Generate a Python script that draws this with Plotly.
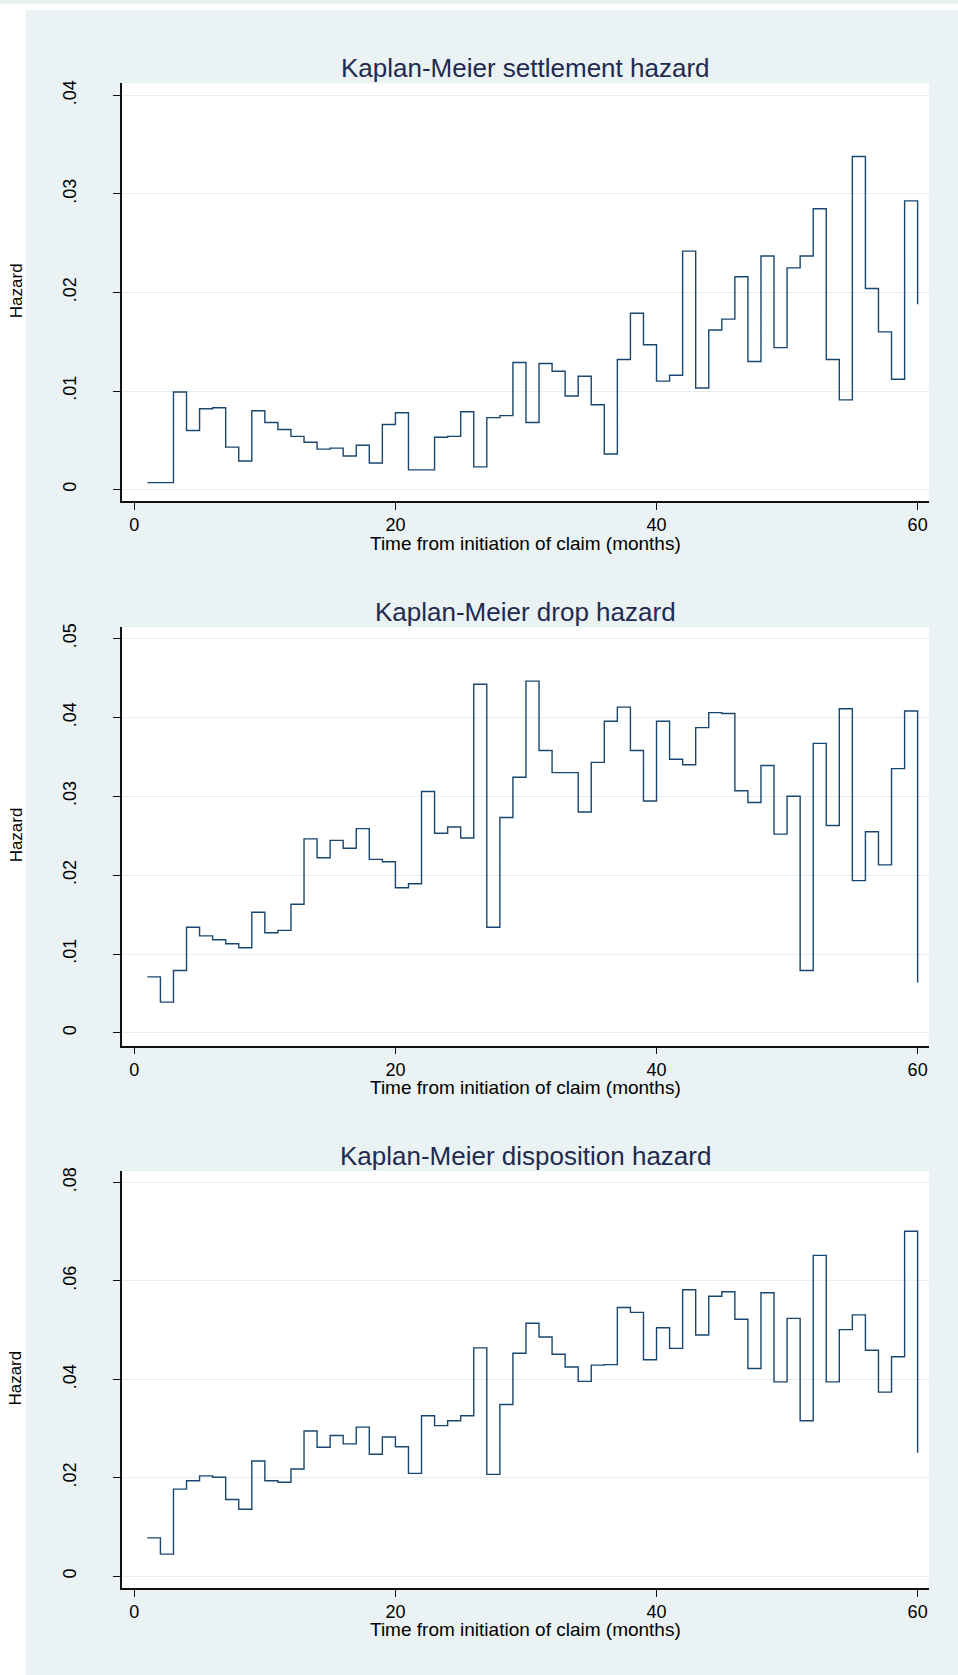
import plotly.graph_objects as go
from plotly.subplots import make_subplots

months = list(range(1, 61))

settlement = [0.0007, 0.0007, 0.0099, 0.0060, 0.0082, 0.0083, 0.0043, 0.0029, 0.0080, 0.0068,
              0.0061, 0.0054, 0.0048, 0.0041, 0.0042, 0.0034, 0.0045, 0.0027, 0.0066, 0.0078,
              0.0020, 0.0020, 0.0053, 0.0054, 0.0079, 0.0023, 0.0073, 0.0075, 0.0129, 0.0068,
              0.0128, 0.0120, 0.0095, 0.0115, 0.0086, 0.0036, 0.0132, 0.0179, 0.0147, 0.0110,
              0.0116, 0.0242, 0.0103, 0.0162, 0.0173, 0.0216, 0.0130, 0.0237, 0.0144, 0.0225,
              0.0237, 0.0285, 0.0132, 0.0091, 0.0338, 0.0204, 0.0160, 0.0112, 0.0293, 0.0188]

drop = [0.0071, 0.0039, 0.0079, 0.0134, 0.0123, 0.0118, 0.0113, 0.0108, 0.0153, 0.0127,
        0.0130, 0.0163, 0.0246, 0.0222, 0.0244, 0.0234, 0.0259, 0.0220, 0.0217, 0.0184,
        0.0189, 0.0306, 0.0253, 0.0261, 0.0247, 0.0442, 0.0134, 0.0273, 0.0324, 0.0446,
        0.0358, 0.0330, 0.0330, 0.0280, 0.0343, 0.0395, 0.0413, 0.0358, 0.0294, 0.0395,
        0.0347, 0.0340, 0.0387, 0.0406, 0.0405, 0.0307, 0.0292, 0.0339, 0.0252, 0.0300,
        0.0079, 0.0367, 0.0263, 0.0411, 0.0193, 0.0255, 0.0213, 0.0335, 0.0408, 0.0064]

disposition = [0.0078, 0.0045, 0.0177, 0.0194, 0.0204, 0.0201, 0.0156, 0.0136, 0.0234, 0.0194,
               0.0191, 0.0218, 0.0295, 0.0262, 0.0286, 0.0269, 0.0303, 0.0248, 0.0283, 0.0263,
               0.0209, 0.0326, 0.0306, 0.0316, 0.0326, 0.0464, 0.0207, 0.0349, 0.0453, 0.0514,
               0.0486, 0.0451, 0.0425, 0.0396, 0.0429, 0.0430, 0.0546, 0.0536, 0.0440, 0.0505,
               0.0463, 0.0582, 0.0490, 0.0569, 0.0578, 0.0522, 0.0422, 0.0576, 0.0395, 0.0524,
               0.0316, 0.0652, 0.0395, 0.0501, 0.0531, 0.0459, 0.0374, 0.0446, 0.0701, 0.0251]

titles = ["Kaplan-Meier settlement hazard", "Kaplan-Meier drop hazard", "Kaplan-Meier disposition hazard"]
series = [settlement, drop, disposition]

x_tickvals = [0, 20, 40, 60]
x_ticktext = ["0", "20", "40", "60"]
y_tickvals = [[0, 0.01, 0.02, 0.03, 0.04],
              [0, 0.01, 0.02, 0.03, 0.04, 0.05],
              [0, 0.02, 0.04, 0.06, 0.08]]
y_ticktext = [["0", ".01", ".02", ".03", ".04"],
              ["0", ".01", ".02", ".03", ".04", ".05"],
              ["0", ".02", ".04", ".06", ".08"]]
y_ranges = [[-0.001175, 0.041235], [-0.0016, 0.05143], [-0.00237, 0.08229]]
x_range = [-0.965, 60.87]

W, H = 958, 1675
FONT = "Liberation Sans, Arial, Helvetica, sans-serif"
NAVY = "#1A476F"
BG = "#EAF2F3"
TITLE_C = "#1E2A4F"

# plot areas in pixels (top, bottom)
plot_px = [(79.5, 498.3), (624.7, 1044.0), (1170.0, 1587.7)]
x_px = (121.7, 929.0)

fig = make_subplots(rows=3, cols=1)

for i, (ser, ttl) in enumerate(zip(series, titles)):
    r = i + 1
    fig.add_trace(go.Scatter(x=months, y=ser, mode="lines", line_shape="hv",
                             line=dict(color=NAVY, width=1.4), showlegend=False,
                             hoverinfo="skip"), row=r, col=1)
    top, bot = plot_px[i]
    ydom = [1 - bot / H, 1 - top / H]
    xdom = [x_px[0] / W, x_px[1] / W]
    fig.update_xaxes(domain=xdom, range=x_range, tickvals=x_tickvals, ticktext=x_ticktext,
                     showgrid=False, zeroline=False, showline=True, linecolor="#111111",
                     linewidth=1.5, ticks="outside", ticklen=7, tickwidth=1.3, tickcolor="#111111",
                     tickfont=dict(family=FONT, size=18, color="#000000"),
                     row=r, col=1)
    fig.update_yaxes(domain=ydom, range=y_ranges[i], tickvals=y_tickvals[i], ticktext=y_ticktext[i],
                     showgrid=True, gridcolor="#E6EEF0", gridwidth=1, zeroline=False,
                     showline=True, linecolor="#111111", linewidth=1.5,
                     ticks="outside", ticklen=7, tickwidth=1.3, tickcolor="#111111",
                     tickangle=-90, ticklabelstandoff=30,
                     tickfont=dict(family=FONT, size=18, color="#000000"),
                     row=r, col=1)
    # panel title
    fig.add_annotation(text=ttl, xref="paper", yref="paper", x=525.4 / W,
                       y=1 - (top - 15.5) / H, xanchor="center", yanchor="middle",
                       showarrow=False, font=dict(family=FONT, size=26, color=TITLE_C))
    # x axis title
    fig.add_annotation(text="Time from initiation of claim (months)", xref="paper", yref="paper",
                       x=525.4 / W, y=1 - (bot + 42) / H, xanchor="center", yanchor="middle",
                       showarrow=False, font=dict(family=FONT, size=19, color="#000000"))
    # y axis title
    fig.add_annotation(text="Hazard", textangle=-90, xref="paper", yref="paper",
                       x=16 / W, y=1 - ((top + bot) / 2 - 2) / H, xanchor="center", yanchor="middle",
                       showarrow=False, font=dict(family=FONT, size=17, color="#000000"))

fig.update_layout(
    width=W, height=H,
    margin=dict(l=0, r=0, t=0, b=0),
    paper_bgcolor=BG,
    plot_bgcolor="#FFFFFF",
    shapes=[
        dict(type="rect", xref="paper", yref="paper", x0=0, x1=26 / W, y0=0, y1=1,
             fillcolor="#FFFFFF", line=dict(width=0), layer="below"),
        dict(type="rect", xref="paper", yref="paper", x0=0, x1=1, y0=1 - 6 / H, y1=1,
             fillcolor="#FFFFFF", line=dict(width=0), layer="below"),
    ],
)

fig.write_html("out.html", config={"displayModeBar": False},
               post_script="document.body.style.margin='0';document.body.style.overflow='hidden';")
